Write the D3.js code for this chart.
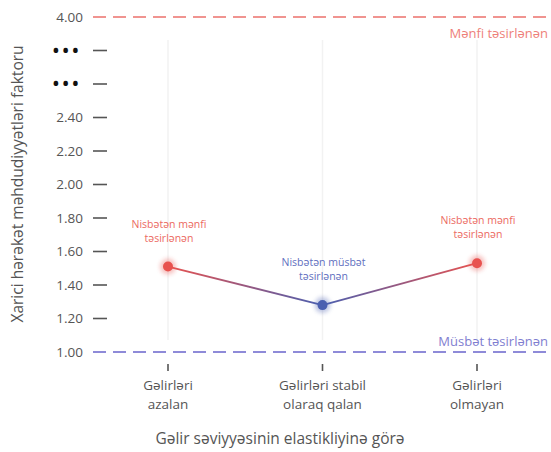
<!DOCTYPE html>
<html><head><meta charset="utf-8">
<script src="https://cdn.jsdelivr.net/npm/d3@7"></script>
<style>body{margin:0;background:#fff}svg{display:block;font-family:"Open Sans","DejaVu Sans",sans-serif}</style>
</head><body><svg id="c" width="551" height="452"></svg>
<script>
const categories = [["Gəlirləri","azalan"],["Gəlirləri stabil","olaraq qalan"],["Gəlirləri","olmayan"]];
const values = [1.51, 1.28, 1.53];
const pointLabels = [["Nisbətən mənfi","təsirlənən"],["Nisbətən müsbət","təsirlənən"],["Nisbətən mənfi","təsirlənən"]];
const pointTone = ["neg","pos","neg"];
const tickLabels = ["1.00","1.20","1.40","1.60","1.80","2.00","2.20","2.40","•••","•••","4.00"];
const negLine = 4.00, posLine = 1.00;
const negText = "Mənfi təsirlənən", posText = "Müsbət təsirlənən";
const xTitle = "Gəlir səviyyəsinin elastikliyinə görə";
const yTitle = "Xarici hərəkət məhdudiyyətləri faktoru";

const W=551,H=452;
const svg=d3.select("#c");
const red="#e8524f", blue="#4a5fb0";
const idx=d3.scaleLinear().domain([0,10]).range([352,17]);
const valToIdx=v=> v>=4 ? 10 : (v-1)/0.2;
const y=v=>idx(valToIdx(v));
const x=d3.scalePoint().domain(d3.range(categories.length)).range([168,477]);

const defs=svg.append("defs");
const f=defs.append("filter").attr("id","glow").attr("x","-1").attr("y","-1").attr("width","3").attr("height","3");
f.append("feGaussianBlur").attr("stdDeviation",2.2);

svg.selectAll(".vg").data(d3.range(categories.length)).join("line")
 .attr("x1",d=>x(d)).attr("x2",d=>x(d)).attr("y1",40).attr("y2",340)
 .attr("stroke","#f2f2f2").attr("stroke-width",1.5);

const g=svg.append("g");
tickLabels.forEach((t,i)=>{
  const yy=idx(i);
  if(i>0 && i<10) g.append("line").attr("x1",93).attr("x2",107).attr("y1",yy).attr("y2",yy).attr("stroke","#555").attr("stroke-width",1.6);
  const isDot=t==="•••";
  g.append("text").attr("x",isDot?81:83).attr("y",yy).attr("dy",isDot?"0.33em":"0.36em").attr("text-anchor","end")
   .attr("font-size",isDot?22:13.5).attr("fill",isDot?"#111":"#555")
   .attr("letter-spacing",isDot?"1.5px":"0").text(t);
});

svg.append("line").attr("x1",93).attr("x2",W).attr("y1",y(negLine)).attr("y2",y(negLine))
 .attr("stroke","#f09490").attr("stroke-width",2).attr("stroke-dasharray","13,7");
svg.append("line").attr("x1",93).attr("x2",W).attr("y1",y(posLine)).attr("y2",y(posLine))
 .attr("stroke","#8e8ad8").attr("stroke-width",2).attr("stroke-dasharray","13,7");
svg.append("text").attr("x",548).attr("y",y(negLine)+21).attr("text-anchor","end").attr("font-size",13).attr("fill","#ee7f7a").text(negText);
svg.append("text").attr("x",548).attr("y",y(posLine)-6).attr("text-anchor","end").attr("font-size",13).attr("fill","#7f7ed0").text(posText);

const col=t=>t==="neg"?red:blue;
for(let i=0;i<values.length-1;i++){
  const gid="gr"+i;
  const lg=defs.append("linearGradient").attr("id",gid).attr("gradientUnits","userSpaceOnUse")
   .attr("x1",x(i)).attr("x2",x(i+1)).attr("y1",y(values[i])).attr("y2",y(values[i+1]));
  lg.append("stop").attr("offset","0").attr("stop-color",col(pointTone[i]));
  lg.append("stop").attr("offset","1").attr("stop-color",col(pointTone[i+1]));
  svg.append("line").attr("x1",x(i)).attr("x2",x(i+1)).attr("y1",y(values[i])).attr("y2",y(values[i+1]))
   .attr("stroke",`url(#${gid})`).attr("stroke-width",1.8);
}
values.forEach((v,i)=>{
  svg.append("circle").attr("cx",x(i)).attr("cy",y(v)).attr("r",8).attr("fill",col(pointTone[i])).attr("opacity",0.35).attr("filter","url(#glow)");
  svg.append("circle").attr("cx",x(i)).attr("cy",y(v)).attr("r",5).attr("fill",col(pointTone[i]));
  pointLabels[i].forEach((l,j)=>{
    svg.append("text").attr("x",x(i)+1).attr("y",y(v)-39+j*14).attr("text-anchor","middle")
     .attr("font-size",10.5).attr("fill",pointTone[i]==="neg"?"#ec6a62":"#5f6fc0").text(l);
  });
});

categories.forEach((c,i)=>{
  svg.append("line").attr("x1",x(i)).attr("x2",x(i)).attr("y1",364).attr("y2",371).attr("stroke","#555").attr("stroke-width",1.6);
  c.forEach((l,j)=>{
    svg.append("text").attr("x",x(i)).attr("y",390+j*19).attr("text-anchor","middle").attr("font-size",13.5).attr("fill","#555").text(l);
  });
});
svg.append("text").attr("x",280).attr("y",444).attr("text-anchor","middle").attr("font-size",15.5).attr("fill","#555").text(xTitle);
svg.append("text").attr("transform","translate(23,184) rotate(-90)").attr("text-anchor","middle").attr("font-size",15.5).attr("fill","#555").text(yTitle);
</script></body></html>
